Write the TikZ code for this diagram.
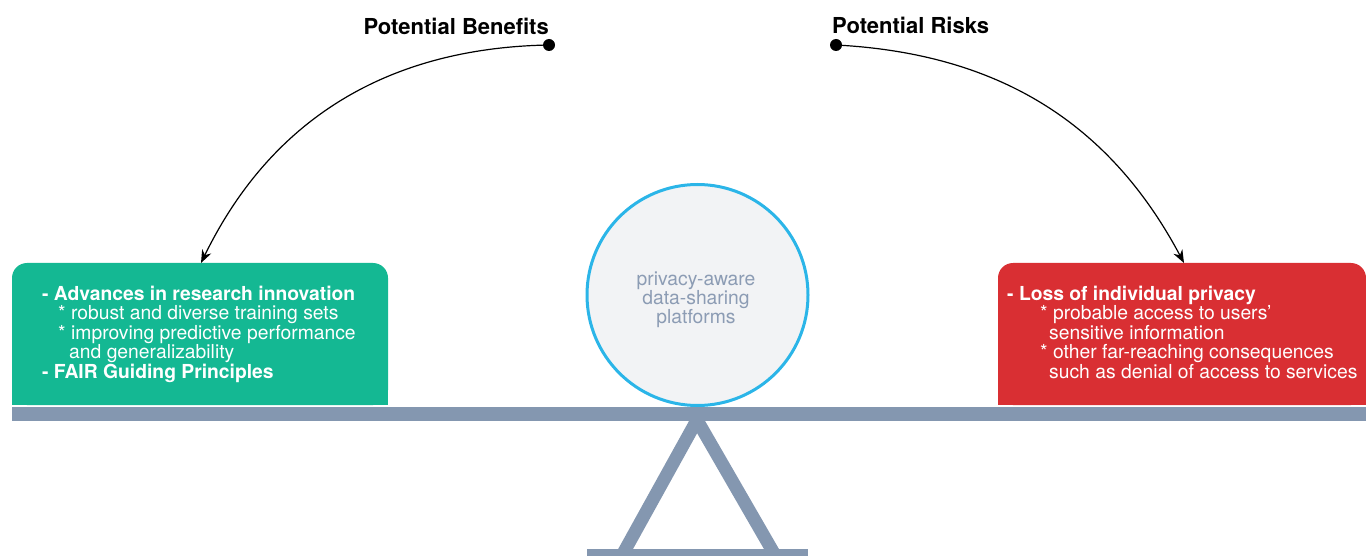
\documentclass[tikz,border=0pt]{standalone}
\usepackage{fontspec}
\setmainfont{TeX Gyre Heros}
\usetikzlibrary{arrows.meta}
\definecolor{benefitgreen}{HTML}{14B893}
\definecolor{riskred}{HTML}{D92F33}
\definecolor{scalegrey}{HTML}{8497B0}
\definecolor{platformfill}{HTML}{F2F3F5}
\definecolor{platformblue}{HTML}{2BB5E8}
\definecolor{platformtext}{HTML}{8C9CB4}
\begin{document}
\begin{tikzpicture}[x=1pt,y=1pt,
    box/.style={rounded corners=15pt, inner sep=0pt, minimum height=142pt},
    boxtext/.style={anchor=north west, inner sep=0pt, align=left, text=white,
      font=\fontsize{19.3}{19.4}\selectfont},
    title/.style={inner sep=0pt, font=\fontsize{22}{24}\selectfont\bfseries},
    dot/.style={circle, fill=black, inner sep=0pt, minimum size=12pt},
    arc/.style={line width=1.2pt, -{Stealth[length=13pt,width=10pt]}},
    platform/.style={circle, draw=platformblue, line width=3pt, fill=platformfill,
      minimum size=221pt, inner sep=0pt},
    platformlabel/.style={inner sep=0pt, align=center, text=platformtext,
      font=\fontsize{19.3}{19}\selectfont},
    leg/.style={line width=13pt, scalegrey, line join=miter}]
  \useasboundingbox (0,0) rectangle (1366,-556);
  % fulcrum
  \begin{scope}
    \clip (560,-421) rectangle (840,-556);
    \draw[leg] (619.5,-560) -- (697,-420) -- (777.8,-560);
  \end{scope}
  \fill[scalegrey] (587,-549) rectangle (808,-556);
  \fill[scalegrey] (12,-407) rectangle (1366,-421);
  % boxes
  \node[box, fill=benefitgreen, minimum width=376pt] (benefits) at (200,-334) {};
  \fill[benefitgreen] (benefits.south west) rectangle ([yshift=20pt]benefits.south east);
  \node[box, fill=riskred, minimum width=368pt] (risks) at (1182,-334) {};
  \fill[riskred] (risks.south west) rectangle ([yshift=20pt]risks.south east);
  \node[boxtext] (btext) at (42,-286) {\textbf{- Advances in research innovation}\\
    \hspace*{16pt}* robust and diverse training sets\\
    \hspace*{16pt}* improving predictive performance\\
    \hspace*{27pt}and generalizability\\
    \textbf{- FAIR Guiding Principles}};
  \node[boxtext] (rtext) at (1007,-286) {\textbf{- Loss of individual privacy}\\
    \hspace*{33pt}* probable access to users'\\
    \hspace*{42pt}sensitive information\\
    \hspace*{33pt}* other far-reaching consequences\\
    \hspace*{42pt}such as denial of access to services};
  % platform
  \node[platform] (platform) at (697.5,-295) {};
  \node[platformlabel] (ptext) at (696,-300) {privacy-aware\\data-sharing\\platforms};
  % titles and arrows
  \node[title, anchor=base east] (btitle) at (549,-35) {Potential Benefits};
  \node[title, anchor=base west] (rtitle) at (832,-34) {Potential Risks};
  \node[dot] (bdot) at (549,-45) {};
  \node[dot] (rdot) at (836,-45) {};
  \coordinate (btip) at (201,-263);
  \coordinate (rtip) at (1184,-263);
  \draw[arc] (bdot.center) to[out=181, in=64] (btip);
  \draw[arc] (rdot.center) to[out=-3, in=118] (rtip);
\end{tikzpicture}
\end{document}
